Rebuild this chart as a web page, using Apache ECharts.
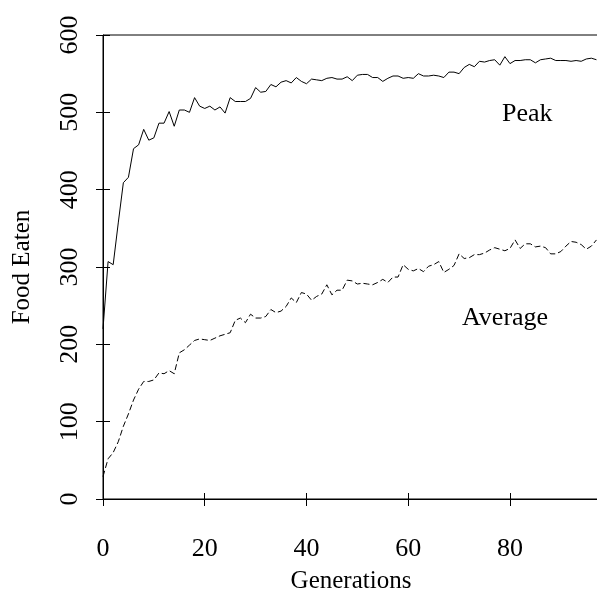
<!DOCTYPE html>
<html>
<head>
<meta charset="utf-8">
<script src="https://cdn.jsdelivr.net/npm/echarts@6/dist/echarts.min.js"></script>
<style>
  html, body { margin: 0; padding: 0; background: #fff; }
  #chart { width: 597px; height: 595px; }
</style>
</head>
<body>
<div id="chart"></div>
<script>
// food eaten per generation, index = generation number
const peak = [
  220, 307, 303, 357, 409, 416, 453, 458, 478, 464,
  467, 486, 486, 501, 482, 503, 503, 500, 519, 508,
  505, 508, 503, 507, 499, 519, 514, 514, 514, 518,
  532, 526, 527, 536, 533, 539, 541, 538, 545, 540,
  537, 543, 542, 541, 544, 545, 543, 543, 546, 541,
  548, 549, 549, 545, 545, 540, 544, 547, 547, 544,
  545, 544, 550, 547, 547, 548, 547, 545, 552, 552,
  550, 558, 562, 559, 566, 565, 567, 568, 561, 572,
  563, 567, 567, 568, 568, 564, 568, 569, 570, 567,
  567, 567, 566, 567, 566, 569, 570, 568
];
const average = [
  29, 52, 60, 74, 94, 110, 128, 142, 152, 152,
  154, 163, 162, 166, 162, 189, 193, 199, 205, 207,
  206, 205, 208, 211, 213, 215, 231, 234, 228, 239,
  234, 234, 236, 245, 241, 243, 249, 260, 254, 267,
  265, 257, 262, 265, 277, 264, 270, 270, 283, 282,
  278, 279, 278, 277, 280, 284, 280, 287, 287, 303,
  297, 295, 298, 294, 301, 303, 307, 293, 297, 302,
  317, 311, 312, 316, 316, 318, 322, 325, 323, 321,
  324, 335, 324, 330, 330, 326, 327, 325, 317, 317,
  320, 327, 333, 332, 329, 323, 327, 335
];
const seriesNames = ['Peak', 'Average'];

const font = 'Liberation Serif';

function toPoints(arr) {
  return arr.map((v, i) => [i, v]);
}

const chart = echarts.init(document.getElementById('chart'));

const xBase = {
  type: 'value', min: 0, max: 97.5, interval: 20,
  splitLine: { show: false }
};
const yBase = {
  type: 'value', min: 0, max: 600, interval: 100,
  splitLine: { show: false }
};

chart.setOption({
  animation: false,
  backgroundColor: '#fff',
  grid: {
    left: 103, right: -2, top: 35, bottom: 96,
    containLabel: false,
    outerBoundsMode: 'none',
    show: true, borderColor: '#000', borderWidth: 1
  },
  xAxis: [
    Object.assign({}, xBase, {
      name: 'Generations',
      nameLocation: 'middle',
      nameGap: 70,
      nameTextStyle: { fontFamily: font, fontSize: 25, color: '#000' },
      axisLine: { lineStyle: { color: '#000' } },
      axisTick: { length: 7, lineStyle: { color: '#000' } },
      axisLabel: {
        fontFamily: font, fontSize: 26, color: '#000', margin: 37,
        showMaxLabel: false
      }
    }),
    Object.assign({}, xBase, {
      position: 'bottom',
      axisLine: { show: false },
      axisTick: { inside: true, length: 6, lineStyle: { color: '#000' } },
      axisLabel: { show: false }
    })
  ],
  yAxis: [
    Object.assign({}, yBase, {
      name: 'Food Eaten',
      nameLocation: 'middle',
      nameGap: 68,
      nameTextStyle: { fontFamily: font, fontSize: 25, color: '#000' },
      axisLine: { lineStyle: { color: '#000' } },
      axisTick: { length: 7, lineStyle: { color: '#000' } },
      axisLabel: {
        fontFamily: font, fontSize: 26, color: '#000', margin: 20, rotate: 90
      }
    }),
    Object.assign({}, yBase, {
      position: 'left',
      axisLine: { show: false },
      axisTick: { inside: true, length: 7, lineStyle: { color: '#000' } },
      axisLabel: { show: false }
    })
  ],
  series: [
    {
      name: seriesNames[0],
      type: 'line',
      data: toPoints(peak),
      showSymbol: false,
      lineStyle: { color: '#000', width: 1 }
    },
    {
      name: seriesNames[1],
      type: 'line',
      data: toPoints(average),
      showSymbol: false,
      lineStyle: { color: '#000', width: 1, type: [6, 3] }
    }
  ],
  graphic: [
    {
      type: 'text', left: 502, top: 101,
      style: { text: seriesNames[0], font: '26px "Liberation Serif"', fill: '#000' }
    },
    {
      type: 'text', left: 462, top: 305,
      style: { text: seriesNames[1], font: '26px "Liberation Serif"', fill: '#000' }
    }
  ]
});
</script>
</body>
</html>
